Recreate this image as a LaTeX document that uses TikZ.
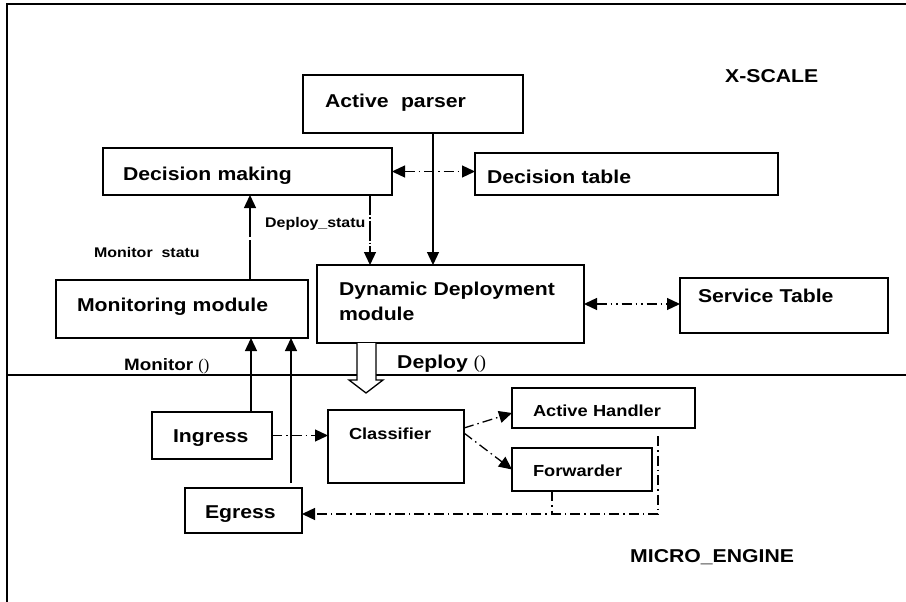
\documentclass[tikz,border=0pt]{standalone}
\usepackage{fontspec}
\setmainfont{Liberation Sans}[FakeStretch=1.14]
\newfontfamily\parenfont{Liberation Serif}
\usetikzlibrary{arrows.meta,calc}
\tikzset{
  bx/.style={draw, line width=1.8pt, rectangle, anchor=north west, inner ysep=0pt,
    outer sep=0pt, align=left, font=\bfseries\fontsize{18.6}{25}\selectfont},
  smallbx/.style={bx, font=\bfseries\fontsize{16}{20}\selectfont},
  lbl/.style={anchor=base west, inner sep=0pt, font=\bfseries\fontsize{18.6}{22}\selectfont},
  slbl/.style={anchor=base west, inner sep=0pt, font=\bfseries\fontsize{14}{17}\selectfont},
  conn/.style={line width=1.3pt},
  arr/.style={conn, -{Triangle[length=13pt,width=12pt]}},
  barr/.style={conn, {Triangle[length=13pt,width=12pt]}-{Triangle[length=13pt,width=12pt]}},
  dd/.style={dash pattern=on 10pt off 4pt on 1.5pt off 4pt},
  ddd/.style={dash pattern=on 10pt off 4pt on 1.5pt off 4pt on 1.5pt off 4pt},
}
\begin{document}
\begin{tikzpicture}[x=1pt,y=-1pt]
\useasboundingbox (0,0) rectangle (906,602);
% frame and divider
\draw[line width=2pt] (7,602) -- (7,4) -- (906,4);
\draw[line width=1.5pt] (7,375) -- (906,375);

% boxes
\node[bx, minimum width=220pt, text width=176pt, inner xsep=22pt, text height=33pt, text depth=25pt] (ap) at (303,75) {Active~~parser};
\node[bx, minimum width=289pt, text width=249pt, inner xsep=20pt, text height=32pt, text depth=15pt] (dm) at (103,148) {Decision making};
\node[bx, minimum width=303pt, text width=279pt, inner xsep=12pt, text height=30pt, text depth=12pt] (dt) at (475,153) {Decision table};
\node[bx, minimum width=252pt, text width=210pt, inner xsep=21pt, text height=31pt, text depth=27pt] (mm) at (56,280) {Monitoring module};
\node[bx, minimum width=267pt, text width=223pt, inner xsep=22pt, text height=30pt, text depth=48pt] (ddm) at (317,265) {Dynamic Deployment\\module};
\node[bx, minimum width=208pt, text width=172pt, inner xsep=18pt, text height=24pt, text depth=31pt] (st) at (680,278) {Service Table};
\node[bx, minimum width=120pt, text width=78pt, inner xsep=21pt, text height=30pt, text depth=17pt] (ing) at (152,412) {Ingress};
\node[smallbx, minimum width=136pt, text width=94pt, inner xsep=21pt, text height=29pt, text depth=44pt] (cls) at (328,410) {Classifier};
\node[smallbx, minimum width=183pt, text width=141pt, inner xsep=21pt, text height=28pt, text depth=12pt] (ah) at (512,388) {Active Handler};
\node[smallbx, minimum width=140pt, text width=98pt, inner xsep=21pt, text height=28pt, text depth=15pt] (fw) at (512,448) {Forwarder};
\node[bx, minimum width=117pt, text width=77pt, inner xsep=20pt, text height=30pt, text depth=15pt] (eg) at (185,488) {Egress};

% labels
\node[lbl] (xs) at (725,83) {X-SCALE};
\node[lbl] (me) at (630,562) {MICRO\_ENGINE};
\node[slbl] (ms) at (94,257) {Monitor~~statu};
\node[slbl] (ds) at (265,227) {Deploy\_statu};
\node[anchor=base west, inner sep=0pt, font=\bfseries\fontsize{16.5}{20}\selectfont] (mon) at (124,370) {Monitor {\mdseries\parenfont ()}};
\node[lbl] (dep) at (397,368) {Deploy {\mdseries\parenfont ()}};

% connectors
\draw[arr] ([xshift=130pt]ap.south west) -- ([xshift=116pt]ddm.north west);
\draw[barr, dd] (dm.east) -- (dm.east -| dt.west);
\draw[arr, dash pattern=on 20pt off 2pt on 1.5pt off 2pt] ([xshift=267pt]dm.south west) -- ([xshift=53pt]ddm.north west);
\draw[arr, dash pattern=on 40pt off 3pt] ([xshift=194pt]mm.north west) -- ([xshift=147pt]dm.south west);
\draw[barr, ddd] (ddm.east) -- (ddm.east -| st.west);
\draw[arr] ([xshift=99pt]ing.north west) -- ([xshift=195pt]mm.south west);
\draw[arr, shorten <=5pt] ([xshift=106pt]eg.north west) -- ([xshift=235pt]mm.south west);
\draw[arr, dd] (ing.east) -- (ing.east -| cls.west);
\draw[arr, dd] ([yshift=-18pt]cls.north east) -- ([yshift=-5pt]ah.west);
\draw[arr, dd] ([yshift=-23pt]cls.north east) -- (fw.west);
\coordinate (bus) at (658,514);
\coordinate (fwb) at ([xshift=40pt]fw.south west);
\coordinate (ahb) at ([xshift=-37pt,yshift=-8pt]ah.south east);
\draw[arr, dd] (ahb) -- (bus) -- (bus -| eg.east);
\draw[conn, dd] (fwb) -- (fwb |- bus);

% hollow deploy arrow
\draw[line width=1.3pt, fill=white] ([xshift=40pt]ddm.south west) -- (357,380) -- (349,380) -- (366,393) -- (383,380) -- (376,380) -- ([xshift=59pt]ddm.south west);
\end{tikzpicture}
\end{document}
